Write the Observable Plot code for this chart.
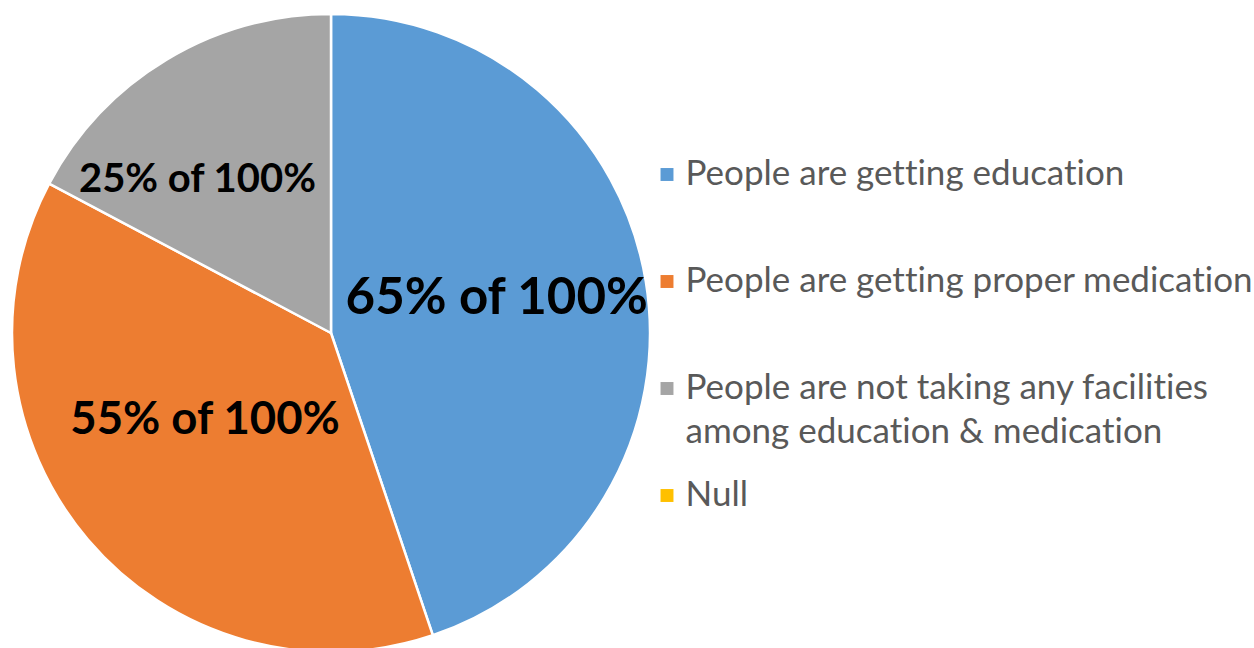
<!DOCTYPE html>
<html>
<head>
<meta charset="utf-8">
<script src="https://cdn.jsdelivr.net/npm/d3@7"></script>
<script src="https://cdn.jsdelivr.net/npm/@observablehq/plot@0.6"></script>
<style>
  html, body { margin: 0; padding: 0; background: #ffffff; }
  #chart { display: flex; width: 1254px; height: 648px; overflow: hidden; }
  #chart svg { display: block; flex: none; font-variant-ligatures: none; }
</style>
</head>
<body>
<div id="chart"></div>
<script>
// Survey shares shown as pie slices (clockwise from 12 o'clock)
const categories = [
  "People are getting education",
  "People are getting proper medication",
  "People are not taking any facilities among education & medication",
  "Null"
];
const legendLabels = [
  "People are getting education",
  "People are getting proper medication",
  "People are not taking any facilities\namong education & medication",
  "Null"
];
const values = [65, 55, 25, 0];
const colors = ["#5B9BD5", "#ED7D31", "#A5A5A5", "#FFC000"];

const rows = categories.map((category, i) => ({category, legend: legendLabels[i], value: values[i]}));
const arcs = d3.pie().sort(null).value(d => d.value)(rows);

// Label placement inside each slice: fraction of the radius, angle nudge (deg), font size
const labelFraction = [0.53, 0.48, 0.64];
const labelTurn = [-3, 6, -10];
const labelSize = [51, 45.5, 40];

const labels = arcs
  .filter(a => a.data.value > 0)
  .map((a, i) => {
    const mid = (a.startAngle + a.endAngle) / 2 + labelTurn[i] * Math.PI / 180;
    return {
      x: labelFraction[i] * Math.sin(mid),
      y: labelFraction[i] * Math.cos(mid),
      text: `${a.data.value}% of 100%`,
      size: labelSize[i]
    };
  });

const FONT = "Lato, 'Open Sans', sans-serif";
const LEGEND_SIZE = 35;
const LEGEND_LINE = 1.28;

// Pie: unit circle in x/y, slices drawn with d3.arc through Plot's scales
const pie = Plot.plot({
  width: 660,
  height: 648,
  margin: 0,
  style: {background: "transparent", fontFamily: FONT, overflow: "visible"},
  x: {axis: null, domain: [-1, 1], range: [12, 650]},
  y: {axis: null, domain: [-1, 1], range: [652, 14]},
  color: {domain: categories, range: colors},
  marks: [
    Plot.dot(arcs, {
      x: () => 0,
      y: () => 0,
      fill: d => d.data.category,
      render(index, scales, values, dimensions) {
        const cx = scales.x(0), cy = scales.y(0);
        const r = Math.abs(scales.x(1) - scales.x(0));
        const arcGen = d3.arc().innerRadius(0).outerRadius(r);
        const g = d3.create("svg:g").attr("transform", `translate(${cx},${cy})`);
        g.selectAll("path")
          .data(index.filter(i => arcs[i].endAngle > arcs[i].startAngle))
          .join("path")
          .attr("d", i => arcGen(arcs[i]))
          .attr("fill", i => values.fill[i])
          .attr("stroke", "#ffffff")
          .attr("stroke-width", 2.5)
          .attr("stroke-linejoin", "round");
        return g.node();
      }
    }),
    Plot.text(labels, {
      x: "x",
      y: "y",
      text: "text",
      fontSize: "size",
      fontWeight: "bold",
      fill: "#000000",
      fontFamily: FONT
    })
  ]
});

// Legend: square swatches with labels on a point scale
const legend = Plot.plot({
  width: 594,
  height: 648,
  margin: 0,
  style: {background: "transparent", fontFamily: FONT, overflow: "visible"},
  y: {axis: null, type: "point", padding: 0, domain: categories, range: [173, 496]},
  color: {domain: categories, range: colors},
  marks: [
    Plot.dot(rows, {
      y: "category",
      fill: "category",
      symbol: "square",
      r: 7.3,
      frameAnchor: "left",
      dx: 6.5
    }),
    Plot.text(rows, {
      y: "category",
      text: "legend",
      frameAnchor: "left",
      textAnchor: "start",
      lineAnchor: "top",
      lineHeight: LEGEND_LINE,
      dx: 25,
      dy: 10 - 0.71 * LEGEND_LINE * LEGEND_SIZE,
      fontSize: LEGEND_SIZE,
      fill: "#595959",
      fontFamily: FONT
    })
  ]
});

document.getElementById("chart").append(pie, legend);
</script>
</body>
</html>
